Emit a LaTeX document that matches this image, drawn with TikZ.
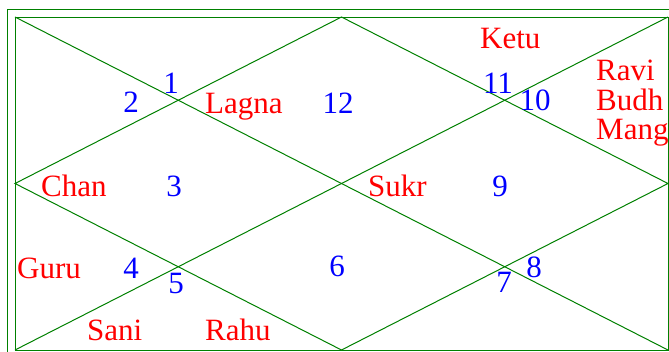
\documentclass[tikz,border=0pt]{standalone}
\usepackage{fontspec}
\setmainfont{Liberation Serif}
\definecolor{chartgreen}{RGB}{0,128,0}

\begin{document}
\begin{tikzpicture}[x=1pt,y=-1pt,
    grid/.style={draw=chartgreen,line width=1pt},
    planet/.style={text=red,font=\fontsize{31}{30}\selectfont,inner sep=0pt,anchor=base west},
    house/.style={text=blue,font=\fontsize{31}{30}\selectfont,inner sep=0pt,anchor=base}]
  \useasboundingbox (0,0) rectangle (669,351);
  \clip (0,0) rectangle (669,351);
  \coordinate (NW) at (15,17);
  \coordinate (NE) at (668,17);
  \coordinate (SW) at (15,350);
  \coordinate (SE) at (668,350);
  \coordinate (N) at (341.5,17);
  \coordinate (E) at (668,183.5);
  \coordinate (S) at (341.5,350);
  \coordinate (W) at (15,183.5);
  \draw [grid] (7,9) rectangle (676,358);
  \draw [grid] (NW) rectangle (SE);
  \draw [grid] (NW) -- (SE);
  \draw [grid] (SW) -- (NE);
  \draw [grid] (N) -- (E) -- (S) -- (W) -- cycle;
  % houses
  \node [house] (h1) at (171,93) {1};
  \node [house] (h2) at (131,112) {2};
  \node [house] (h3) at (174,196) {3};
  \node [house] (h4) at (131,278) {4};
  \node [house] (h5) at (176,293) {5};
  \node [house] (h6) at (337,276) {6};
  \node [house] (h7) at (504,292) {7};
  \node [house] (h8) at (534,277) {8};
  \node [house] (h9) at (500,196) {9};
  \node [house] (h10) at (535,110) {10};
  \node [house] (h11) at (498,93) {11};
  \node [house] (h12) at (338,113) {12};
  % planets
  \node [planet] (lagna) at (205,113) {Lagna};
  \node [planet] (chan) at (41,196) {Chan};
  \node [planet] (guru) at (17,278) {Guru};
  \node [planet] (sani) at (87,340) {Sani};
  \node [planet] (rahu) at (205,340) {Rahu};
  \node [planet] (sukr) at (368,196) {Sukr};
  \node [planet] (ketu) at (480,48) {Ketu};
  \node [planet] (ravi) at (596,80) {Ravi};
  \node [planet] (budh) at (596,110) {Budh};
  \node [planet] (mang) at (596,139) {Mang};
\end{tikzpicture}
\end{document}
